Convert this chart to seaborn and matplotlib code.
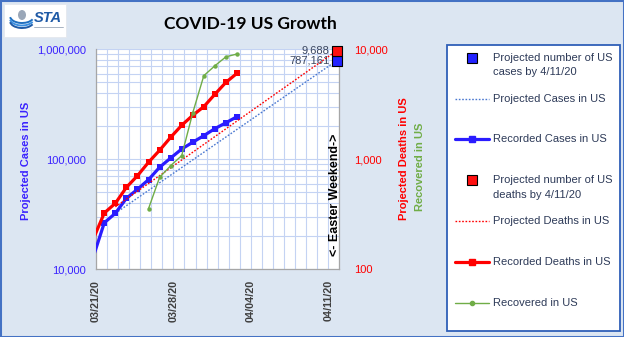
import matplotlib
matplotlib.use("Agg")
import matplotlib.pyplot as plt
import matplotlib.dates as mdates
import matplotlib.transforms as mtransforms
from matplotlib.lines import Line2D
from matplotlib.patches import Rectangle, Ellipse, Arc
from matplotlib.ticker import FixedLocator, LogLocator, NullFormatter, FuncFormatter
import numpy as np
import pandas as pd
import seaborn as sns

# ---------------------------------------------------------------- data
record_days = ["2020-03-20", "2020-03-21", "2020-03-22", "2020-03-23", "2020-03-24",
               "2020-03-25", "2020-03-26", "2020-03-27", "2020-03-28", "2020-03-29",
               "2020-03-30", "2020-03-31", "2020-04-01", "2020-04-02"]
recorded_cases = [12950, 26500, 32300, 44200, 53400, 65300, 84600, 102700,
                  124000, 143000, 164000, 190000, 215000, 244000]
recorded_deaths = [188, 325, 398, 556, 709, 940, 1207, 1585,
                   2038, 2512, 3010, 3900, 5010, 6050]

recovered_days = ["2020-03-25", "2020-03-26", "2020-03-27", "2020-03-28", "2020-03-29",
                  "2020-03-30", "2020-03-31", "2020-04-01", "2020-04-02"]
recovered = [356, 685, 875, 1080, 2650, 5760, 7080, 8550, 9060]

projection_days = ["2020-03-22", "2020-04-11"]
projected_cases = [32300, 787161]
projected_deaths = [370, 9688]

tick_days = ["2020-03-21", "2020-03-28", "2020-04-04", "2020-04-11"]
axis_start, axis_end = "2020-03-21", "2020-04-12"

# ---------------------------------------------------------------- style
sns.set_style("white")
plt.rcParams["font.family"] = ["Liberation Sans", "DejaVu Sans"]

BG = "#dce6f2"
BLUE = "#2a1cff"
BLUE_TXT = "#3a22ff"
RED = "#ff0000"
GREEN = "#70ad47"
PROJ_BLUE = "#4a78d0"
GRID = "#c4d3f3"
SPINE = "#a6a6a6"
DARK = "#3a4660"

W, H = 624, 337
fig = plt.figure(figsize=(W / 100, H / 100), dpi=100, facecolor=BG)


def fx(px):
    return px / W


def fy(py):
    return 1 - py / H


ax = fig.add_axes([fx(96), fy(269.3), fx(339.3) - fx(96), fy(49.3) - fy(269.3)])
ax.set_facecolor("white")
ax.set_yscale("log")
ax2 = ax.twinx()
ax2.set_yscale("log")

report_time = pd.Timedelta(hours=18)
rec = pd.DataFrame({
    "when": pd.to_datetime(record_days) + report_time,
    "cases": recorded_cases,
    "deaths": recorded_deaths,
})
shown = rec[rec["when"] >= pd.Timestamp(axis_start)]
recov = pd.DataFrame({"when": pd.to_datetime(recovered_days) + report_time,
                      "recovered": recovered})
proj = pd.DataFrame({
    "when": pd.to_datetime(projection_days) + report_time,
    "cases": projected_cases,
    "deaths": projected_deaths,
})
proj_end = proj.iloc[[-1]]

dotted = (0, (1.2, 1.2))

# cases on the left axis
sns.lineplot(data=proj, x="when", y="cases", ax=ax, color=PROJ_BLUE, lw=1.0,
             linestyle=dotted, zorder=3)
sns.lineplot(data=rec, x="when", y="cases", ax=ax, color=BLUE, lw=2.3, zorder=4)
sns.scatterplot(data=shown, x="when", y="cases", ax=ax, color=BLUE, marker="s",
                s=24, linewidth=0, zorder=5)
sns.scatterplot(data=proj_end, x="when", y="cases", ax=ax, color="#2222ff",
                marker="s", s=46, edgecolor="black", linewidth=0.8, zorder=6)

# deaths and recoveries on the right axis
sns.lineplot(data=proj, x="when", y="deaths", ax=ax2, color=RED, lw=1.0,
             linestyle=dotted, zorder=3)
sns.lineplot(data=rec, x="when", y="deaths", ax=ax2, color=RED, lw=2.3, zorder=4)
sns.scatterplot(data=shown, x="when", y="deaths", ax=ax2, color=RED, marker="s",
                s=24, linewidth=0, zorder=5)
sns.lineplot(data=recov, x="when", y="recovered", ax=ax2, color=GREEN, lw=1.0,
             marker="o", markersize=3.2, markeredgewidth=0, zorder=5)
sns.scatterplot(data=proj_end, x="when", y="deaths", ax=ax2, color="#ff1010",
                marker="s", s=46, edgecolor="black", linewidth=0.8, zorder=6)

for a in (ax, ax2):
    for coll in a.collections:
        coll.set_clip_on(False)

ax.set_xlim(pd.Timestamp(axis_start), pd.Timestamp(axis_end))
ax.set_ylim(1e4, 1e6)
ax2.set_ylim(1e2, 1e4)
for a in (ax, ax2):
    a.set_xlabel("")
    a.set_ylabel("")

# grid
ax.xaxis.set_minor_locator(mdates.DayLocator())
ax.yaxis.set_minor_locator(LogLocator(base=10, subs=np.arange(2, 10)))
ax.yaxis.set_minor_formatter(NullFormatter())
ax2.yaxis.set_minor_formatter(NullFormatter())
ax.grid(True, which="both", color=GRID, lw=0.8)
ax.set_axisbelow(True)

# ticks
comma = FuncFormatter(lambda v, _: f"{v:,.0f}")
ax.yaxis.set_major_locator(FixedLocator([1e4, 1e5, 1e6]))
ax.yaxis.set_major_formatter(comma)
ax2.yaxis.set_major_locator(FixedLocator([1e2, 1e3, 1e4]))
ax2.yaxis.set_major_formatter(comma)
ax.tick_params(axis="y", which="both", length=0, pad=7, labelsize=8, labelcolor=BLUE_TXT)
ax2.tick_params(axis="y", which="both", length=0, pad=10.5, labelsize=8, labelcolor=RED)

ax.xaxis.set_major_locator(FixedLocator(mdates.date2num(pd.to_datetime(tick_days))))
ax.xaxis.set_major_formatter(mdates.DateFormatter("%m/%d/%y"))
ax.tick_params(axis="x", which="both", length=0, pad=7.5, labelsize=7.8, labelcolor="#404040")
for lab in ax.get_xticklabels():
    lab.set_rotation(90)
    lab.set_fontweight("bold")

for a in (ax, ax2):
    for s in a.spines.values():
        s.set_visible(False)
for side in ("left", "bottom", "right"):
    ax.spines[side].set_visible(True)
    ax.spines[side].set_color(SPINE)
    ax.spines[side].set_linewidth(0.9)

# value labels beside the projected end points
ax2.annotate(f"{projected_deaths[-1]:,}", xy=(proj_end["when"].iloc[0], projected_deaths[-1]),
             xytext=(-5, 0), textcoords="offset points", ha="right", va="center",
             fontsize=8, color=DARK, annotation_clip=False, zorder=7)
ax.annotate(f"{projected_cases[-1]:,}", xy=(proj_end["when"].iloc[0], projected_cases[-1]),
            xytext=(-5, 0), textcoords="offset points", ha="right", va="center",
            fontsize=8, color=DARK, annotation_clip=False, zorder=7)

# holiday note
blend = mtransforms.blended_transform_factory(ax.transData, ax.transAxes)
ax.text(mdates.date2num(pd.Timestamp("2020-04-11 15:00")), 0.338, "<- Easter Weekend->",
        transform=blend, rotation=90, ha="center", va="center", fontsize=9,
        fontweight="bold", color="black", zorder=8)

# titles and axis names
fig.text(fx(250.7), fy(24), "COVID-19 US Growth", ha="center", va="center",
         fontsize=12.5, fontweight="bold", family=["Lato", "DejaVu Sans"], color="black")
fig.text(fx(26), fy(161), "Projected Cases in US", rotation=90, ha="center", va="center",
         fontsize=8, fontweight="bold", color=BLUE_TXT)
fig.text(fx(404), fy(159), "Projected Deaths in US", rotation=90, ha="center", va="center",
         fontsize=8, fontweight="bold", color=RED)
fig.text(fx(420), fy(167), "Recovered in US", rotation=90, ha="center", va="center",
         fontsize=8, fontweight="bold", color=GREEN)

# logo
fig.add_artist(Rectangle((fx(4), fy(37)), fx(62), 33 / H, transform=fig.transFigure,
                         facecolor="white", edgecolor="#e4e8ee", lw=0.6))
fig.add_artist(Ellipse((fx(22), fy(15)), 8 / W, 10 / H, transform=fig.transFigure,
                       facecolor="#9aa7b8", edgecolor="none"))
for i, c in enumerate(["#1f6fc0", "#3b8fe0", "#1f5aa6"]):
    fig.add_artist(Arc((fx(22), fy(16 + i * 2.5)), 24 / W, 14 / H, theta1=190, theta2=330,
                       transform=fig.transFigure, color=c, lw=1.4))
fig.text(fx(48), fy(18), "STA", ha="center", va="center", fontsize=10.5,
         fontweight="bold", fontstyle="italic", color="#1f5aa6")
fig.add_artist(Line2D([fx(34), fx(63)], [fy(27)] * 2, transform=fig.transFigure,
                      color="#9aa7b8", lw=0.6))

# legend panel
fig.add_artist(Rectangle((fx(446.7), fy(331)), fx(620) - fx(446.7), (331 - 45) / H,
                         transform=fig.transFigure, facecolor="white",
                         edgecolor="#2f5fb8", lw=1.3))
LEG_TXT = "#2d3a58"


def leg_text(py, s):
    fig.text(fx(493.3), fy(py), s, ha="left", va="center", fontsize=8, color=LEG_TXT)


def leg_line(py, **kw):
    fig.add_artist(Line2D([fx(455), fx(489)], [fy(py)] * 2, transform=fig.transFigure, **kw))


def leg_mark(py, **kw):
    fig.add_artist(Line2D([fx(472.3)], [fy(py)], transform=fig.transFigure, lw=0, **kw))


leg_mark(58.3, marker="s", ms=6.5, mfc="#2222ff", mec="black", mew=0.8)
leg_text(58.3, "Projected number of US")
leg_text(72.3, "cases by 4/11/20")
leg_line(99, color=PROJ_BLUE, lw=1.0, linestyle=dotted)
leg_text(99, "Projected Cases in US")
leg_line(139, color=BLUE, lw=2.3)
leg_mark(139, marker="s", ms=4, mfc=BLUE, mec=BLUE)
leg_text(139, "Recorded Cases in US")
leg_mark(180.3, marker="s", ms=6.5, mfc="#ff1010", mec="black", mew=0.8)
leg_text(180.3, "Projected number of US")
leg_text(194.7, "deaths by 4/11/20")
leg_line(221.3, color=RED, lw=1.0, linestyle=dotted)
leg_text(221.3, "Projected Deaths in US")
leg_line(261.7, color=RED, lw=2.3)
leg_mark(261.7, marker="s", ms=4, mfc=RED, mec=RED)
leg_text(261.7, "Recorded Deaths in US")
leg_line(303.3, color=GREEN, lw=1.0)
leg_mark(303.3, marker="o", ms=3, mfc=GREEN, mec=GREEN)
leg_text(303.3, "Recovered in US")

# outer frame
fig.add_artist(Rectangle((0, 0), 1, 1, transform=fig.transFigure, fill=False,
                         edgecolor="#4472c4", lw=2.2))

fig.savefig("out.png", dpi=100, facecolor=BG)
